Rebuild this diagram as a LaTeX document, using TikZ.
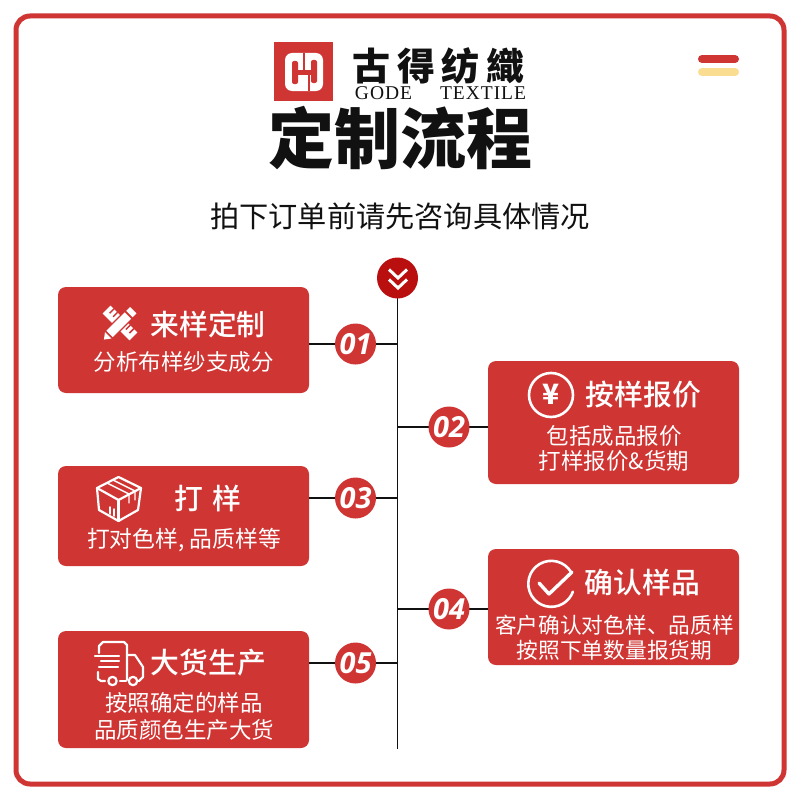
\documentclass[tikz,border=0pt]{standalone}
\usepackage{fontspec}
\setmainfont{Noto Sans CJK SC}
\newfontfamily\logoserif[LetterSpace=5]{Liberation Serif}
\newfontfamily\numfont{Open Sans}
\newfontfamily\cjkmed{Noto Sans CJK SC Medium}
\newfontfamily\cjkblack{Noto Sans CJK SC Black}
\definecolor{brandred}{HTML}{CF3533}
\definecolor{darkred}{HTML}{B90F0F}
\definecolor{pale}{HTML}{FBDD92}
\definecolor{ink}{HTML}{111111}
\tikzset{
  card/.style={fill=brandred,rounded corners=8pt},
  badge/.style={circle,fill=brandred,minimum size=41pt,inner sep=0pt,text=white,font=\numfont\bfseries\itshape\fontsize{29}{29}\selectfont},
  wire/.style={line width=1.2pt,draw=ink},
  cardtitle/.style={text=white,inner sep=0pt,font=\cjkmed\fontsize{28.8}{30}\selectfont},
  cardtext/.style={text=white,inner sep=0pt,font=\fontsize{22.5}{25}\selectfont,align=center},
  iconline/.style={draw=white,line width=2.2pt,line cap=round,line join=round},
}
\begin{document}
\begin{tikzpicture}[x=1pt,y=-1pt]
\useasboundingbox (0,0) rectangle (800,800);
\fill[white] (0,0) rectangle (800,800);
\draw[brandred,line width=5pt,rounded corners=14pt] (16,16) rectangle (784,784);
% menu
\draw[brandred,line width=8pt,line cap=round] (702,59) -- (735,59);
\draw[pale,line width=8pt,line cap=round] (702,72) -- (735,72);
% logo
\fill[brandred] (274,42) rectangle (333,101);
\fill[white,rounded corners=7pt] (285,53) rectangle (323,91);
\fill[brandred,rounded corners=2pt] (292,61) rectangle (298,84);
\fill[brandred,rounded corners=2pt] (311,60) rectangle (317,83);
\fill[brandred] (298,70) rectangle (311,75);
\fill[brandred] (303,53) rectangle (304.5,70);
\fill[brandred] (308,75) rectangle (309.5,91);
\node (logotext) at (438.5,66) [text=ink,inner sep=0pt,font=\bfseries\fontsize{38}{38}\selectfont] {古\kern6.5pt得\kern6.5pt纺\kern6.5pt織};
\node (logoen) at (440.5,93.5) [text=ink,inner sep=0pt,font=\logoserif\fontsize{19.5}{19.5}\selectfont] {GODE\kern28pt TEXTILE};
\node (title) at (400,138) [text=ink,inner sep=0pt,font=\cjkblack\fontsize{66}{66}\selectfont] {定制流程};
\node (subtitle) at (400,216) [text=ink,inner sep=0pt,font=\fontsize{29.2}{29.2}\selectfont] {拍下订单前请先咨询具体情况};
% cards
\fill[card] (58,287) rectangle (309,393);
\fill[card] (58,466) rectangle (309,566);
\fill[card] (58,631) rectangle (309,748);
\fill[card] (488,361) rectangle (739,484);
\fill[card] (488,549) rectangle (739,665);
\coordinate (c1) at (309,344);
\coordinate (c3) at (309,498);
\coordinate (c5) at (309,663);
\coordinate (c2) at (488,427);
\coordinate (c4) at (488,609);
\coordinate (spinetop) at (397.5,278);
\coordinate (spineend) at (397.5,749);
\draw[wire] (spinetop) -- (spineend);
\draw[wire] (c1) -- (c1 -| spinetop);
\draw[wire] (c3) -- (c3 -| spinetop);
\draw[wire] (c5) -- (c5 -| spinetop);
\draw[wire] (c2) -- (c2 -| spinetop);
\draw[wire] (c4) -- (c4 -| spinetop);
\node[badge] (n1) at (355.5,344) {01};
\node[badge] (n3) at (355.5,498) {03};
\node[badge] (n5) at (355.5,663) {05};
\node[badge] (n2) at (449,427) {02};
\node[badge] (n4) at (449,609) {04};
\fill[darkred] (spinetop) circle (20.5pt);
\draw[white,line width=3pt] (389,269.5) -- (398,278) -- (407,269.5);
\draw[white,line width=3pt] (389,279.5) -- (398,288) -- (407,279.5);
% texts
\node[cardtitle] (t1) at (208,324) {来样定制};
\node[cardtext] (s1) at (183.5,362) {分析布样纱支成分};
\node[cardtitle] (t3) at (208,498) {打\kern9pt样};
\node[cardtext,font=\fontsize{22.8}{25}\selectfont] (s3) at (184,540) {打对色样, 品质样等};
\node[cardtitle] (t5) at (208.5,663) {大货生产};
\node[cardtext,font=\fontsize{22.5}{27}\selectfont] (s5) at (184,716.5) {按照确定的样品\\品质颜色生产大货};
\node[cardtitle] (t2) at (643.5,395) {按样报价};
\node[cardtext] (s2) at (614,448.5) {包括成品报价\\打样报价\&货期};
\node[cardtitle] (t4) at (642.5,583) {确认样品};
\node[cardtext,font=\fontsize{21.7}{25}\selectfont] (s4) at (614.5,637.5) {客户确认对色样、品质样\\按照下单数量报货期};
% yen icon
\draw[white,line width=2.6pt] (551,395) circle (22pt);
\node (yen) at (551,394) [text=white,inner sep=0pt,font=\bfseries\fontsize{28}{28}\selectfont] {¥};
% check icon
\draw[iconline,line width=2.6pt] (571,572) arc (31:340:23pt);
\draw[iconline,line width=3.4pt] (539,583) -- (549,594) -- (572,572);
% box icon
\draw[iconline] (118.5,477) -- (97,488) -- (118.5,500) -- (141,488) -- cycle;
\draw[iconline] (97,488) -- (99,510) -- (118.5,521) -- (138,510) -- (141,488);
\draw[iconline] (118.5,500) -- (118.5,521);
\draw[iconline,line width=1.4pt] (107,483) -- (129,494) -- (129,503) (113,480) -- (135,491) -- (135,500);
\draw[iconline,line width=1.4pt] (110,507) -- (110,514) (114,509) -- (114,516);
% truck icon
\draw[iconline] (99,653) -- (99,646) -- (103,642) -- (124,642) -- (127,645) -- (127,680);
\draw[iconline] (127,655) -- (135,655) -- (143,667) -- (143,677) -- (139,681);
\draw[iconline] (95,656) -- (119,656) (101,661) -- (119,661) (99,667) -- (118,667);
\draw[iconline] (98,672) -- (98,679) -- (101,681) -- (105,681);
\draw[iconline] (120,681) -- (126,681);
\draw[iconline] (112.5,681) circle (4.2pt);
\draw[iconline] (133,681) circle (4.2pt);
% pencil ruler icon
\begin{scope}[shift={(120,323)},rotate=-45]
  \fill[white] (-19,-5.5) rectangle (19,5.5);
  \foreach \t in {-15,-10,8,13}
    \fill[brandred] (\t,0.5) rectangle (\t+1.5,-6);
\end{scope}
\begin{scope}[shift={(119.5,324)},rotate=45]
  \fill[brandred] (-23,-6) rectangle (22,6);
  \fill[white] (-14,-4.5) rectangle (12,4.5);
  \fill[white] (14,-4.5) rectangle (19.5,4.5);
  \fill[white] (-16,-4.5) -- (-22,0) -- (-16,4.5) -- cycle;
\end{scope}
\end{tikzpicture}
\end{document}
